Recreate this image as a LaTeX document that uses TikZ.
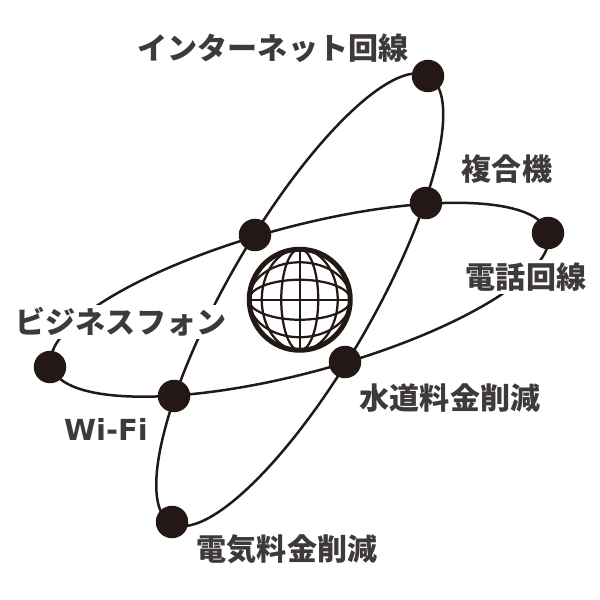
\documentclass[tikz,border=0pt]{standalone}
\usepackage{fontspec}
\newfontfamily\jpfont{Noto Sans CJK JP}
\newfontfamily\latinfont{DejaVu Sans}
\definecolor{inkdark}{HTML}{231815}
\definecolor{inklabel}{HTML}{3E3A39}
\tikzset{
    hub/.style={circle,fill=inkdark,draw=none,inner sep=0pt,minimum size=0.65cm},
    orbit/.style={draw=inkdark,line width=0.05cm},
    grid line/.style={draw=inkdark,line width=0.045cm},
    tag/.style={text=inklabel,font=\jpfont\bfseries\fontsize{17.1}{18}\selectfont,inner sep=0pt},
    tag cut/.style={tag,fill=white,inner xsep=0.02cm,inner ysep=0.06cm},
}
\begin{document}
\begin{tikzpicture}[]
  \useasboundingbox (0,0) rectangle (12,12);
  \coordinate (core) at (5.995,6.005);

  % the two orbits
  \draw[orbit,rotate around={60:(core)}] (core) ellipse (5.16 and 1.45);
  \draw[orbit,rotate around={15:(core)}] (core) ellipse (5.14 and 1.46);

  % globe
  \node[circle,draw=inkdark,line width=0.10cm,minimum size=2.02cm,inner sep=0pt] (globe) at (core) {};
  \begin{scope}
    \clip (core) circle (1.02);
    \draw[grid line] (core) ellipse (0.37 and 1.02);
    \draw[grid line] (core) ellipse (0.76 and 1.02);
    \draw[grid line] (core) ellipse (1.02 and 0.40);
    \draw[grid line] (core) ellipse (1.02 and 0.75);
    \draw[grid line] (globe.north) -- (globe.south);
    \draw[grid line] (globe.west) -- (globe.east);
  \end{scope}

  % labels
  \node[tag]     (net)    at (5.46,11.04) {インターネット回線};
  \node[tag]     (mfp)    at (10.14,8.62) {複合機};
  \node[tag cut] (line)   at (10.52,6.46) {電話回線};
  \node[tag]     (water)  at (9.00,4.04)  {水道料金削減};
  \node[tag cut] (phone)  at (2.42,5.56)  {ビジネスフォン};
  \node[text=inklabel,font=\latinfont\bfseries\fontsize{16.5}{18}\selectfont,inner sep=0pt] (wifi) at (2.12,3.42) {Wi-Fi};
  \node[tag]     (power)  at (5.74,1.02)  {電気料金削減};

  % hubs
  \node[hub] (h_net)   at (8.56,10.48) {};
  \node[hub] (h_mfp)   at (8.52,7.94)  {};
  \node[hub] (h_line)  at (10.96,7.34) {};
  \node[hub] (h_a)     at (5.10,7.30)  {};
  \node[hub] (h_water) at (6.90,4.76)  {};
  \node[hub] (h_wifi)  at (3.48,4.08)  {};
  \node[hub] (h_phone) at (1.00,4.66)  {};
  \node[hub] (h_power) at (3.44,1.56)  {};
\end{tikzpicture}
\end{document}
